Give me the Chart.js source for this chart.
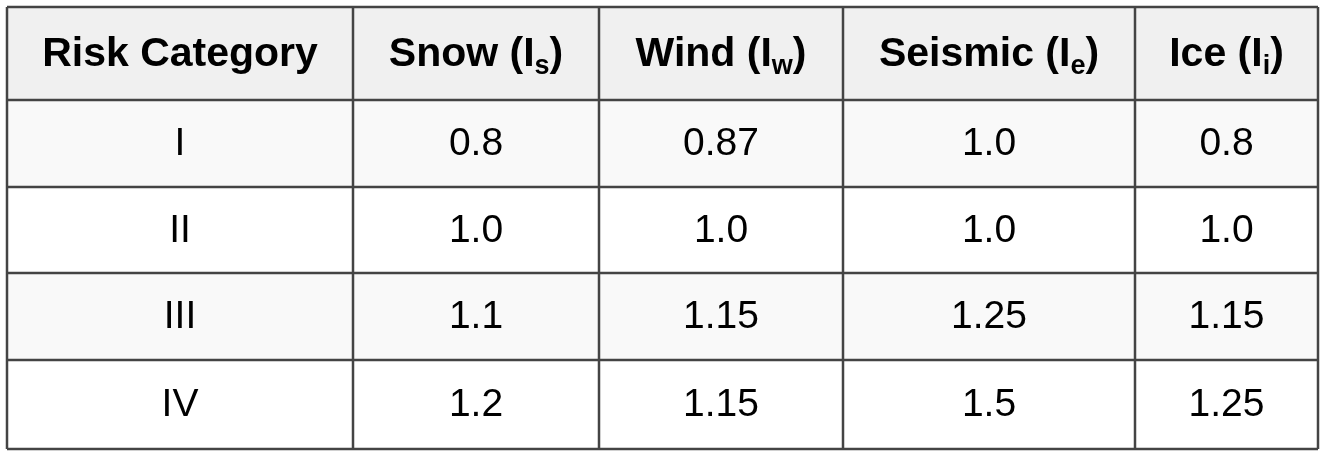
<!DOCTYPE html>
<html><head><meta charset="utf-8">
<script src="https://cdn.jsdelivr.net/npm/chart.js@4"></script>
<style>html,body{margin:0;padding:0;background:#fff}#wrap{width:1326px;height:456px}</style>
</head><body><div id="wrap"><canvas id="c"></canvas></div>
<script>
const headerMain = ["Risk Category", "Snow (I", "Wind (I", "Seismic (I", "Ice (I"];
const headerSub = ["", "s", "w", "e", "i"];
const categories = ["I", "II", "III", "IV"];
const snow = ["0.8", "1.0", "1.1", "1.2"];
const wind = ["0.87", "1.0", "1.15", "1.15"];
const seismic = ["1.0", "1.0", "1.25", "1.5"];
const ice = ["0.8", "1.0", "1.15", "1.25"];

const colEdges = [7, 353, 599, 843, 1135, 1318];
const rowEdges = [7, 100, 187, 273, 360, 449];

const tablePlugin = {
  id: 'table',
  afterDraw(chart) {
    const ctx = chart.ctx, xs = chart.scales.x, ys = chart.scales.y;
    const X = v => xs.getPixelForValue(v), Y = v => ys.getPixelForValue(v);
    const cols = [categories, snow, wind, seismic, ice];
    const bgs = ['#f0f0f0', '#f9f9f9', '#ffffff', '#f9f9f9', '#ffffff'];
    ctx.save();
    for (let r = 0; r < 5; r++) {
      ctx.fillStyle = bgs[r];
      ctx.fillRect(X(colEdges[0]), Y(rowEdges[r]), X(colEdges[5]) - X(colEdges[0]), Y(rowEdges[r+1]) - Y(rowEdges[r]));
    }
    ctx.textBaseline = 'middle';
    for (let c = 0; c < 5; c++) {
      const cx = (X(colEdges[c]) + X(colEdges[c+1])) / 2;
      const cy = (Y(rowEdges[0]) + Y(rowEdges[1])) / 2 + 1;
      ctx.fillStyle = '#000';
      const mainF = 'bold 41px "Liberation Sans", Arial, sans-serif';
      const subF = 'bold 27px "Liberation Sans", Arial, sans-serif';
      ctx.font = mainF; const w1 = ctx.measureText(headerMain[c]).width;
      let w2 = 0, w3 = 0;
      if (headerSub[c]) { ctx.font = subF; w2 = ctx.measureText(headerSub[c]).width; ctx.font = mainF; w3 = ctx.measureText(')').width; }
      let x0 = cx - (w1 + w2 + w3) / 2;
      ctx.textAlign = 'left';
      ctx.font = mainF; ctx.fillText(headerMain[c], x0, cy);
      if (headerSub[c]) {
        ctx.font = subF; ctx.fillText(headerSub[c], x0 + w1, cy + 12);
        ctx.font = mainF; ctx.fillText(')', x0 + w1 + w2, cy);
      }
      ctx.textAlign = 'center';
      ctx.font = '39px "Liberation Sans", Arial, sans-serif';
      for (let r = 0; r < 4; r++) {
        const ry = (Y(rowEdges[r+1]) + Y(rowEdges[r+2])) / 2 + 1;
        ctx.fillText(cols[c][r], cx, ry);
      }
    }
    ctx.strokeStyle = '#444'; ctx.lineWidth = 2.5;
    ctx.beginPath();
    for (const e of colEdges) { ctx.moveTo(X(e), Y(rowEdges[0])); ctx.lineTo(X(e), Y(rowEdges[5])); }
    for (const e of rowEdges) { ctx.moveTo(X(colEdges[0]), Y(e)); ctx.lineTo(X(colEdges[5]), Y(e)); }
    ctx.stroke();
    ctx.restore();
  }
};

new Chart(document.getElementById('c'), {
  type: 'scatter',
  data: { datasets: [{ data: [] }] },
  options: {
    responsive: true, maintainAspectRatio: false, animation: false,
    layout: { padding: 0 },
    plugins: { legend: { display: false }, tooltip: { enabled: false } },
    scales: {
      x: { type: 'linear', min: 0, max: 1326, display: false },
      y: { type: 'linear', min: 0, max: 456, reverse: true, display: false }
    }
  },
  plugins: [tablePlugin]
});
</script></body></html>
